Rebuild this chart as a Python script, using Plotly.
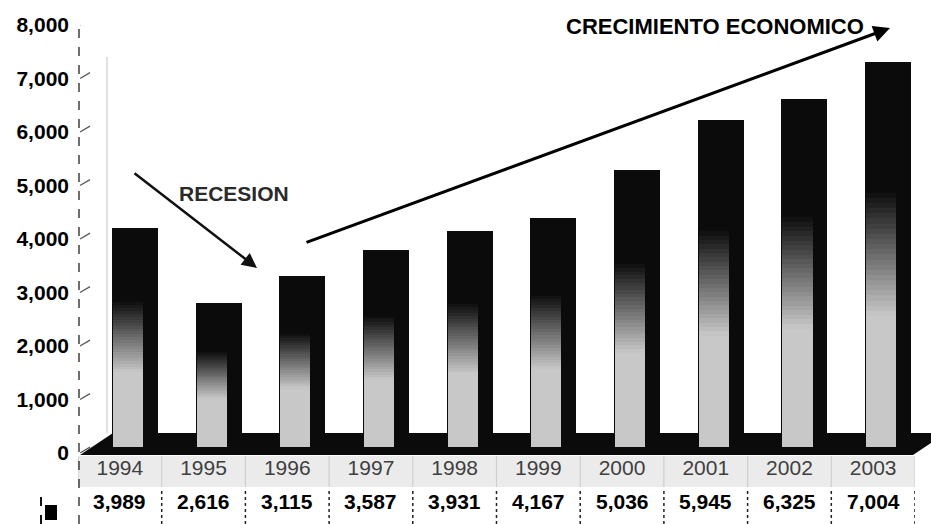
import plotly.graph_objects as go

# ---------------- data ----------------
years = ["1994", "1995", "1996", "1997", "1998", "1999", "2000", "2001", "2002", "2003"]
values = [3989, 2616, 3115, 3587, 3931, 4167, 5036, 5945, 6325, 7004]
y_ticks = [0, 1000, 2000, 3000, 4000, 5000, 6000, 7000, 8000]
title_up = "CRECIMIENTO ECONOMICO"
title_down = "RECESION"

# ---------------- layout geometry ----------------
W, H = 931, 524
ML, MR, MT, MB = 78, 16, 25, 71
PW, PH = W - ML - MR, H - MT - MB


def px_x(p):
    return (p - ML) / PW


def px_y(p):
    return (H - MB - p) / PH


# bar axis (3D offset: bars sit slightly higher than tick scale)
base_px, px_per_k = 447, 55.0
y2_range = [-(H - MB - base_px) / px_per_k * 1000, (base_px - MT) / px_per_k * 1000]

BAR_OFF, BAR_W = -0.0956, 0.55
LIGHT_OFF, LIGHT_W = -0.084, 0.36

fig = go.Figure()

# full dark bar (front + side face)
fig.add_trace(go.Bar(
    x=years, y=values, yaxis="y2",
    offset=BAR_OFF, width=BAR_W,
    marker=dict(color="#0b0b0b", line=dict(width=0)),
    hoverinfo="x+y", showlegend=False,
))

# smooth gradient on the front face (light bottom -> black top)
G_START, G_END, N_STEPS = 0.34, 0.66, 24
LIGHT, DARK = 200, 14
fig.add_trace(go.Bar(
    x=years, y=[v * G_START for v in values], base=[0] * len(values),
    yaxis="y2", offset=LIGHT_OFF, width=LIGHT_W,
    marker=dict(color=f"rgb({LIGHT},{LIGHT},{LIGHT})", line=dict(width=0)),
    hoverinfo="skip", showlegend=False,
))
for k in range(N_STEPS):
    f0 = G_START + (G_END - G_START) * k / N_STEPS
    f1 = G_START + (G_END - G_START) * (k + 1) / N_STEPS
    t = (k + 0.5) / N_STEPS
    g = int(round(LIGHT + (DARK - LIGHT) * t))
    fig.add_trace(go.Bar(
        x=years,
        y=[v * (f1 - f0) * 1.02 for v in values],
        base=[v * f0 for v in values],
        yaxis="y2", offset=LIGHT_OFF, width=LIGHT_W,
        marker=dict(color=f"rgb({g},{g},{g})", line=dict(width=0)),
        hoverinfo="skip", showlegend=False,
    ))

shapes = []

# faint back-wall left edge
shapes.append(dict(type="line", xref="paper", yref="paper",
                   x0=px_x(107), x1=px_x(107), y0=px_y(57), y1=px_y(433),
                   line=dict(color="#d6d6d6", width=1.5), layer="below"))

# floor (dark parallelogram)
floor_path = "M {a},{b} L {c},{d} L {e},{f} L {g},{h} Z".format(
    a=px_x(80), b=px_y(455), c=px_x(113), d=px_y(433),
    e=px_x(946), f=px_y(433), g=px_x(913), h=px_y(455))
shapes.append(dict(type="path", xref="paper", yref="paper", path=floor_path,
                   fillcolor="#0b0b0b", line=dict(width=0), layer="below"))

# years row background
shapes.append(dict(type="rect", xref="paper", yref="paper",
                   x0=0, x1=1, y0=px_y(487), y1=px_y(456),
                   fillcolor="#ebebeb", line=dict(width=0), layer="below"))

# separators
for i in range(len(years) + 1):
    xb = i - 0.5
    shapes.append(dict(type="line", xref="x", yref="paper",
                       x0=xb, x1=xb, y0=px_y(487), y1=px_y(456),
                       line=dict(color="#cfcfcf", width=1.2), layer="below"))
    if 0 < i:
        shapes.append(dict(type="line", xref="x", yref="paper",
                           x0=xb, x1=xb, y0=px_y(524), y1=px_y(489),
                           line=dict(color="#222222", width=1.5, dash="dot")))

# dashed y axis line
shapes.append(dict(type="line", xref="paper", yref="paper",
                   x0=px_x(79), x1=px_x(79), y0=px_y(524), y1=px_y(20),
                   line=dict(color="#222222", width=1.3, dash="dash")))

# small 3D tick stubs
for t in y_ticks:
    shapes.append(dict(type="line", xref="paper", yref="y",
                       x0=px_x(80), x1=px_x(90), y0=t, y1=t + 110,
                       line=dict(color="#555555", width=1.2)))

# legend key
shapes.append(dict(type="line", xref="paper", yref="paper",
                   x0=px_x(41), x1=px_x(41), y0=px_y(524), y1=px_y(490),
                   line=dict(color="#111111", width=2, dash="dash")))
shapes.append(dict(type="rect", xref="paper", yref="paper",
                   x0=px_x(45), x1=px_x(57), y0=px_y(520), y1=px_y(505),
                   fillcolor="#000000", line=dict(width=0)))

annotations = []
# values row of the data table (x = category serial number on the x axis)
for i, v in enumerate(values):
    annotations.append(dict(
        x=i, xref="x", y=px_y(501), yref="paper",
        text=f"{v:,}", showarrow=False, xanchor="center", yanchor="middle",
        font=dict(family="Liberation Sans, Arial, sans-serif", size=21,
                  color="#000000", weight="bold"),
    ))

# growth arrow and text
annotations.append(dict(
    x=px_x(890), y=px_y(28), xref="paper", yref="paper",
    ax=305 - 890, ay=243 - 28, axref="pixel", ayref="pixel",
    showarrow=True, arrowhead=2, arrowsize=1.1, arrowwidth=3,
    arrowcolor="#000000", text="", standoff=0,
))
annotations.append(dict(
    x=px_x(715), y=px_y(26), xref="paper", yref="paper",
    text=title_up, showarrow=False, xanchor="center", yanchor="middle",
    font=dict(family="Liberation Sans, Arial, sans-serif", size=22,
              color="#000000", weight="bold"),
))

# recession arrow and text
annotations.append(dict(
    x=px_x(257), y=px_y(268), xref="paper", yref="paper",
    ax=133 - 257, ay=172 - 268, axref="pixel", ayref="pixel",
    showarrow=True, arrowhead=2, arrowsize=1.2, arrowwidth=2.5,
    arrowcolor="#111111", text="", standoff=0,
))
annotations.append(dict(
    x=px_x(234), y=px_y(194), xref="paper", yref="paper",
    text=title_down, showarrow=False, xanchor="center", yanchor="middle",
    font=dict(family="Liberation Sans, Arial, sans-serif", size=21,
              color="#2a2a2a", weight="bold"),
))

fig.update_layout(
    width=W, height=H,
    margin=dict(l=ML, r=MR, t=MT, b=MB),
    paper_bgcolor="#ffffff", plot_bgcolor="#ffffff",
    barmode="overlay", bargap=0,
    showlegend=False,
    xaxis=dict(
        type="category", categoryorder="array", categoryarray=years,
        range=[-0.5, len(years) - 0.5],
        showgrid=False, zeroline=False, showline=False, ticks="",
        tickfont=dict(family="Liberation Sans Narrow, Arial Narrow, Liberation Sans, sans-serif",
                      size=21, color="#3f3f3f"),
    ),
    yaxis=dict(
        range=[0, 8000], tickvals=y_ticks, tickformat=",",
        showgrid=False, zeroline=False, showline=False, ticks="",
        ticklabelstandoff=8,
        tickfont=dict(family="Liberation Sans, Arial, sans-serif", size=21,
                      color="#000000", weight="bold"),
    ),
    yaxis2=dict(
        overlaying="y", range=y2_range, visible=False,
    ),
    shapes=shapes,
    annotations=annotations,
)

fig.write_html(
    "out.html",
    config={"displayModeBar": False},
    post_script="document.body.style.margin='0';document.body.style.overflow='hidden';",
)
